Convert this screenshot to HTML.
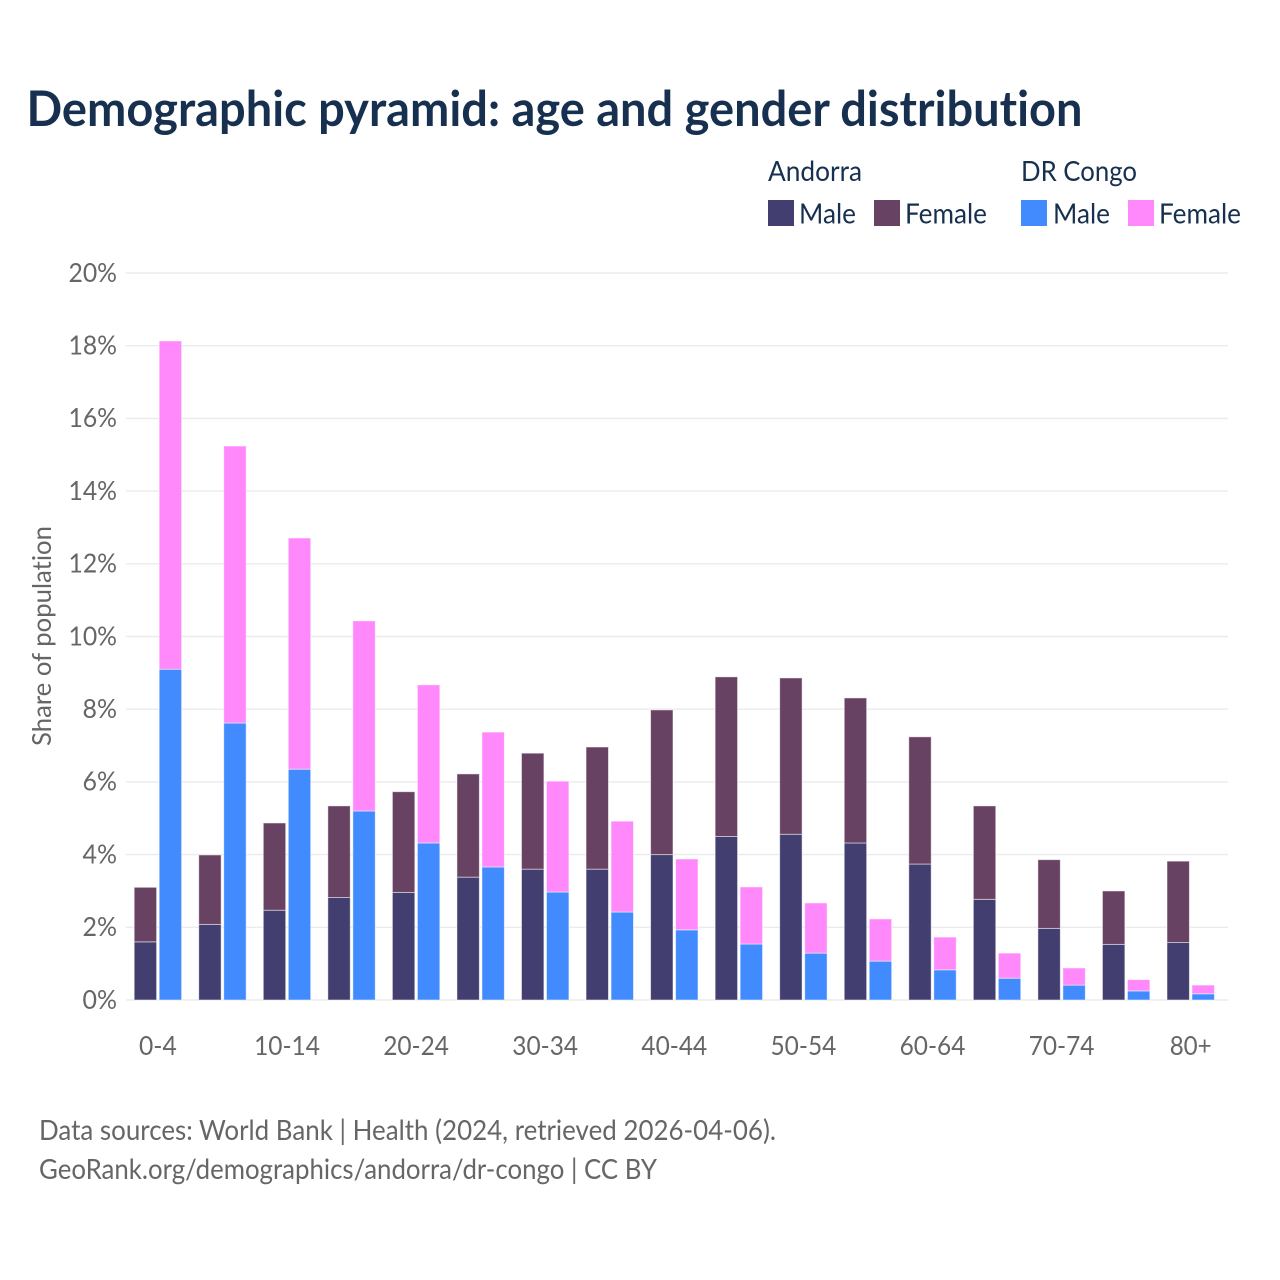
<!DOCTYPE html>
<html lang="en">
<head>
<meta charset="utf-8">
<title>Demographic pyramid</title>
<style>
html,body{margin:0;padding:0;background:#fff;}
svg{display:block;}
text{font-family:"Lato","Carlito","Liberation Sans",sans-serif;font-variant-ligatures:none;}
</style>
</head>
<body>
<svg id="chart" xmlns="http://www.w3.org/2000/svg" width="1280" height="1280" viewBox="0 0 1280 1280">
  <rect x="0" y="0" width="1280" height="1280" fill="#fff"></rect>
  <text x="26.5" y="126" font-size="49" font-weight="700" fill="#17304f" textLength="1056" lengthAdjust="spacingAndGlyphs">Demographic pyramid: age and gender distribution</text>

  <g>
    <text x="768" y="181" font-size="28" fill="#17304f" textLength="94" lengthAdjust="spacingAndGlyphs">Andorra</text>
    <text x="1021" y="181" font-size="28" fill="#17304f" textLength="116" lengthAdjust="spacingAndGlyphs">DR Congo</text>
    <rect x="768" y="200" width="26" height="26" fill="#423f70"></rect>
    <text x="799" y="223.5" font-size="28" fill="#17304f" textLength="57" lengthAdjust="spacingAndGlyphs">Male</text>
    <rect x="874" y="200" width="26" height="26" fill="#684263"></rect>
    <text x="905" y="223.5" font-size="28" fill="#17304f" textLength="82" lengthAdjust="spacingAndGlyphs">Female</text>
    <rect x="1021" y="200" width="26" height="26" fill="#418bff"></rect>
    <text x="1053" y="223.5" font-size="28" fill="#17304f" textLength="57" lengthAdjust="spacingAndGlyphs">Male</text>
    <rect x="1128" y="200" width="26" height="26" fill="#ff88fb"></rect>
    <text x="1159" y="223.5" font-size="28" fill="#17304f" textLength="82" lengthAdjust="spacingAndGlyphs">Female</text>
  </g>

  <g id="grid"></g>
  <g id="yticks"></g>
  <g id="bars"></g>
  <g id="xticks"></g>

  <text transform="translate(51 636) rotate(-90)" text-anchor="middle" font-size="26.5" fill="#666" textLength="220" lengthAdjust="spacingAndGlyphs">Share of population</text>

  <text x="39" y="1140" font-size="28" fill="#666" textLength="737" lengthAdjust="spacingAndGlyphs">Data sources: World Bank | Health (2024, retrieved 2026-04-06).</text>
  <text x="39" y="1179" font-size="28" fill="#666" textLength="618" lengthAdjust="spacingAndGlyphs">GeoRank.org/demographics/andorra/dr-congo | CC BY</text>
</svg>
<script>
const categories = ["0-4","5-9","10-14","15-19","20-24","25-29","30-34","35-39","40-44","45-49","50-54","55-59","60-64","65-69","70-74","75-79","80+"];
const andorraMale = [1.60,2.08,2.47,2.82,2.96,3.38,3.60,3.60,4.00,4.50,4.56,4.32,3.74,2.77,1.97,1.53,1.58];
const andorraFemale = [1.50,1.91,2.40,2.52,2.77,2.84,3.19,3.36,3.98,4.39,4.30,3.99,3.50,2.57,1.89,1.47,2.24];
const congoMale = [9.10,7.62,6.35,5.20,4.32,3.66,2.97,2.42,1.93,1.54,1.29,1.07,0.83,0.60,0.41,0.25,0.17];
const congoFemale = [9.03,7.62,6.36,5.23,4.35,3.71,3.05,2.50,1.95,1.57,1.38,1.16,0.90,0.69,0.47,0.31,0.24];
const yTicks = [0,2,4,6,8,10,12,14,16,18,20];

const NS = "http://www.w3.org/2000/svg";
const y0 = 1000, pxPerUnit = 36.35, firstCenter = 157.9, step = 64.55, barW = 22.4, barGap = 2.6;
function yScale(v){ return y0 - v * pxPerUnit; }
function xScale(i){ return firstCenter + i * step; }
function labelWidth(s){
  let w = 0;
  for (const c of s) w += c === "-" ? 9.8 : c === "%" ? 20.5 : 14;
  return w;
}
function make(tag, attrs, parent, content){
  const el = document.createElementNS(NS, tag);
  for (const k in attrs) el.setAttribute(k, attrs[k]);
  if (content !== undefined) el.textContent = content;
  parent.appendChild(el);
  return el;
}

const grid = document.getElementById("grid");
const yticksG = document.getElementById("yticks");
yTicks.forEach(function(t){
  const line = make("line", {x1:126, x2:1228, y1:yScale(t), y2:yScale(t), stroke:"#ebebeb", "stroke-width":1.4}, grid);
  
  
  const s = t + "%";
  const label = make("text", {x:117, y:yScale(t)+8.8, "text-anchor":"end", "font-size":26.5, fill:"#666", textLength:labelWidth(s), lengthAdjust:"spacingAndGlyphs"}, yticksG, s);
  
  
});

const barsG = document.getElementById("bars");
function drawBar(x, base, val, color){
  const top = yScale(base + val), bottom = yScale(base);
  const r = make("rect", {x:x, y:top, width:barW, height:bottom-top, fill:color, stroke:"#fff", "stroke-opacity":0.55, "stroke-width":0.9}, barsG);
  
  
}
categories.forEach(function(c, i){
  const cx = xScale(i);
  const leftX = cx - barW - barGap/2;
  const rightX = cx + barGap/2;
  drawBar(leftX, 0, andorraMale[i], "#423f70");
  drawBar(leftX, andorraMale[i], andorraFemale[i], "#684263");
  drawBar(rightX, 0, congoMale[i], "#418bff");
  drawBar(rightX, congoMale[i], congoFemale[i], "#ff88fb");
});

const xticksG = document.getElementById("xticks");
categories.forEach(function(c, i){
  if (i % 2 !== 0) return;
  const label = make("text", {x:xScale(i), y:1055, "text-anchor":"middle", "font-size":26.5, fill:"#666", textLength:labelWidth(c), lengthAdjust:"spacingAndGlyphs"}, xticksG, c);
  
  
});
</script>
</body>
</html>
